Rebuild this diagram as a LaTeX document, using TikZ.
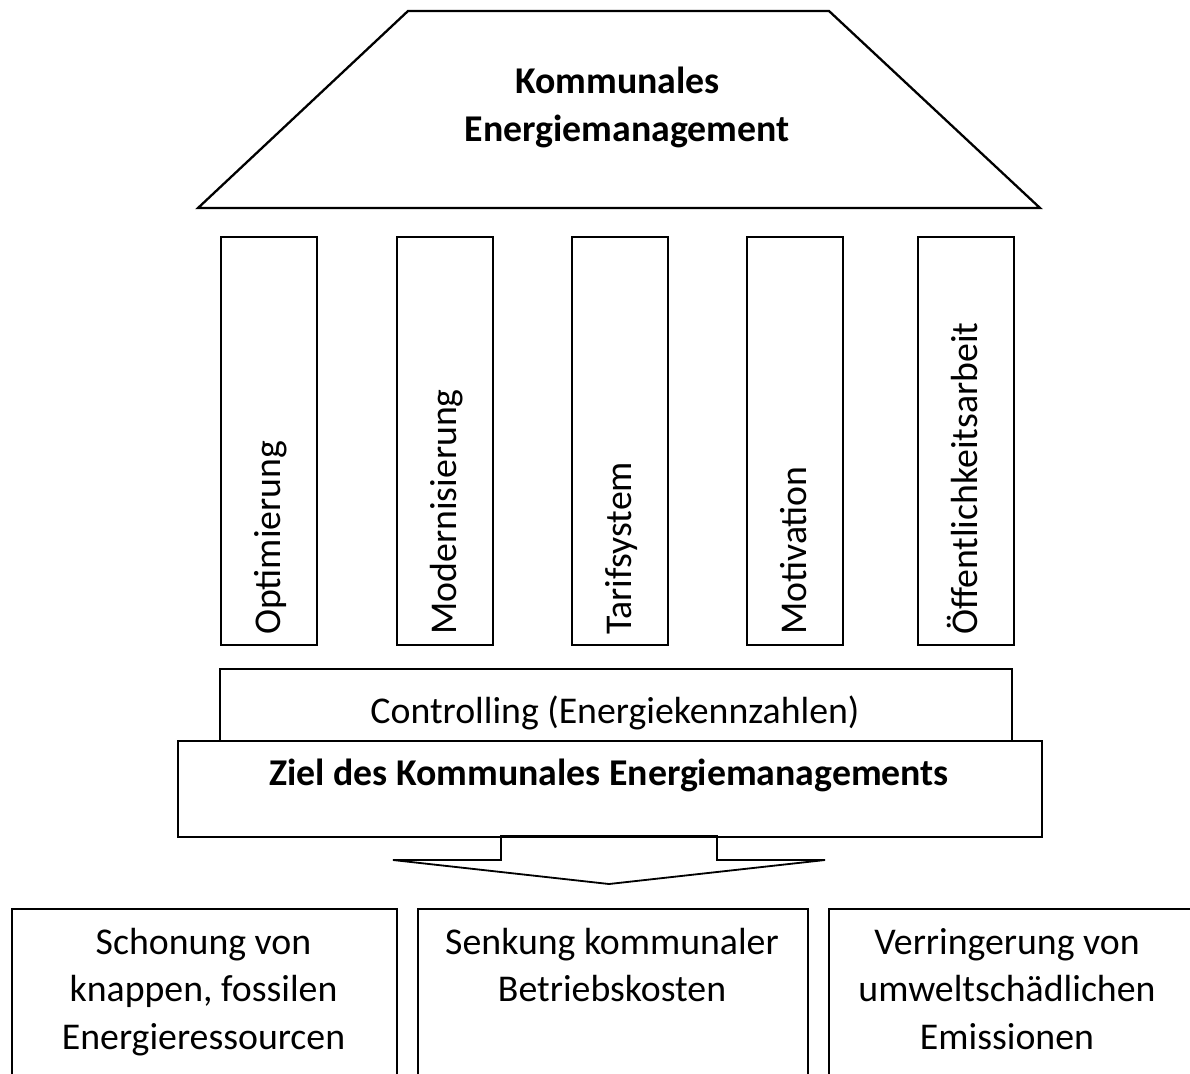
\documentclass[tikz,border=0pt]{standalone}
\usepackage{fontspec}
\setmainfont{Carlito}
\begin{document}
\begin{tikzpicture}[x=1pt,y=-1pt,
  box/.style={draw=black, line width=1.8pt, rectangle, inner sep=0pt},
  pillar/.style={box, minimum width=96pt, minimum height=408pt, anchor=north},
  txt/.style={inner sep=0pt, font=\fontsize{37.8}{47.5}\selectfont, align=center},
  btxt/.style={txt, font=\fontsize{37.8}{47.5}\selectfont\bfseries},
  vtxt/.style={txt, rotate=90, anchor=base west}
]
\clip (0,0) rectangle (1190,1073);
% roof
\coordinate (r1) at (198,208);
\coordinate (r2) at (408,11);
\coordinate (r3) at (829,11);
\coordinate (r4) at (1040,208);
\draw[line width=2.3pt, line join=miter] (r1) -- (r2) -- (r3) -- (r4) -- cycle;
\node[btxt, anchor=base] (title) at (627,141)
  {Kommunales\hspace*{19pt}\\Energiemanagement};
% pillars
\foreach \n/\cx/\t in {p1/269/Optimierung, p2/445/Modernisierung, p3/620/Tarifsystem, p4/795/Motivation, p5/966/Öffentlichkeitsarbeit}{
  \node[pillar] (\n) at (\cx,236) {};
  \node[vtxt] (\n t) at (\cx+11,635) {\t};
}
% controlling
\node[box, minimum width=792pt, minimum height=72pt, anchor=north west] (ctrl) at (219,668) {};
\node[txt, anchor=base] (ctrlt) at (615,723) {Controlling (Energiekennzahlen)};
% ziel
\node[box, minimum width=864pt, minimum height=96pt, anchor=north west] (ziel) at (177,740) {};
\node[btxt, anchor=base] (zielt) at (609,785) {Ziel des Kommunales Energiemanagements};
% arrow
\coordinate (a1) at (393,860);
\coordinate (a2) at (501,860);
\coordinate (a3) at (501,836);
\coordinate (a4) at (717,836);
\coordinate (a5) at (717,860);
\coordinate (a6) at (825,860);
\coordinate (a7) at (609,884);
\draw[line width=1.8pt, line join=miter] (a1) -- (a2) -- (a3) -- (a4) -- (a5) -- (a6) -- (a7) -- cycle;
% goals
\node[box, minimum width=385pt, minimum height=200pt, anchor=north west] (g1) at (11,908) {};
\node[box, minimum width=390pt, minimum height=200pt, anchor=north west] (g2) at (417,908) {};
\node[box, minimum width=400pt, minimum height=200pt, anchor=north west] (g3) at (828,908) {};
\node[txt, anchor=north] (g1t) at (203.5,928) {Schonung von\\knappen, fossilen\\Energieressourcen};
\node[txt, anchor=north] (g2t) at (612,928) {Senkung kommunaler\\Betriebskosten};
\node[txt, anchor=north] (g3t) at (1007,928) {Verringerung von\\umweltschädlichen\\Emissionen};
\end{tikzpicture}
\end{document}
